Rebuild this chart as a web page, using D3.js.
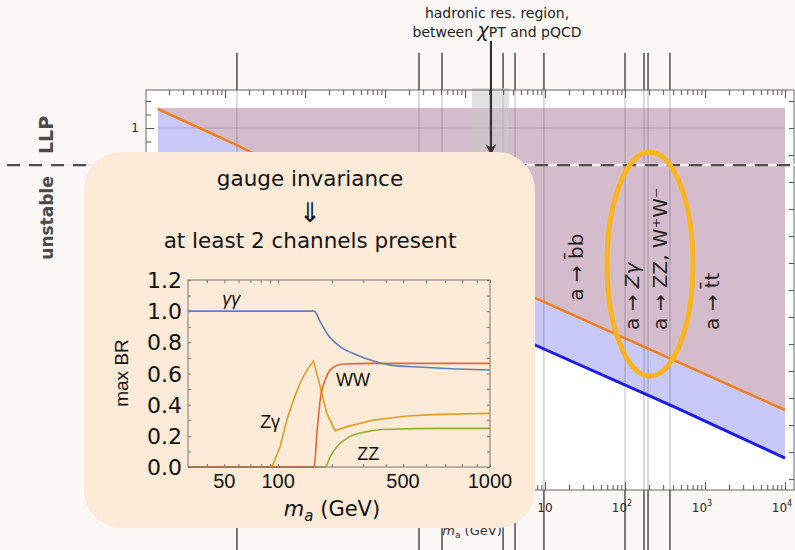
<!DOCTYPE html>
<html>
<head>
<meta charset="utf-8">
<script src="https://cdn.jsdelivr.net/npm/d3@7/dist/d3.min.js"></script>
<style>
body { margin: 0; background: #fcf8f7; }
svg { display: block; }
</style>
</head>
<body>
<svg id="vis" width="795" height="550"></svg>
<script>
// ---------- values ----------
// main panel, x = m_a (GeV), y = decay length (log)
var orangeLine = [[1.45e-4, 25.6], [1.41e-3, 0.055], [7.5, 2.6e-13], [1e4, 1.3e-21]];
var blueLine   = [[1.45e-4, 7.7e-4], [7.5, 8.5e-17], [447, 1.8e-21], [1e4, 3.6e-25]];
var shadeTop = 30;
var shadeRange = [1.45e-4, 1e4];
var llpBoundary = 1.8e-3;
var thresholds = [1.41e-3, 0.266, 0.516, 2.99, 4.22, 9.7, 100, 172.8, 194, 365];
var hadronBand = [1.22, 3.55];
var hadronArrow = 2.11;
var mainXTicks = [10, 100, 1000, 10000];
var mainXExp = ["", "2", "3", "4"];
var channels = [
  {m: 23.7, start: 1.6e-13, text: "b̄b"},
  {m: 119, start: 1.1e-15, text: "Zγ"},
  {m: 266, start: 1.1e-15, text: "ZZ, W⁺W⁻"},
  {m: 1189, start: 1.1e-15, text: "t̄t"}
];

// inset panel, x = m_a (GeV), y = max BR
var insetTicksX = [50, 100, 500, 1000];
var insetTicksY = [0, 0.2, 0.4, 0.6, 0.8, 1.0, 1.2];
var brGG = [[31.3, 1.0], [159.1, 1.0], [171.9, 0.933], [187.4, 0.858], [222.5, 0.772], [276, 0.719], [342, 0.680], [424, 0.654], [586, 0.640], [767, 0.629], [1000, 0.622]];
var brZG = [[31.3, 0], [92.2, 0], [102.6, 0.130], [111.9, 0.302], [121.8, 0.43], [132.8, 0.539], [144.8, 0.622], [157.7, 0.68], [171.9, 0.515], [187.4, 0.344], [208.6, 0.233], [242.6, 0.259], [342, 0.302], [515, 0.327], [671, 0.338], [1000, 0.344]];
var brWW = [[31.3, 0], [159.1, 0], [164.8, 0.216], [171.9, 0.43], [183.4, 0.558], [199.9, 0.633], [232.2, 0.661], [342, 0.665], [1000, 0.665]];
var brZZ = [[31.3, 0], [183.4, 0], [195.6, 0.066], [213.2, 0.130], [242.6, 0.184], [314, 0.227], [424, 0.242], [671, 0.248], [1000, 0.248]];

// ---------- main panel ----------
var svg = d3.select("#vis");
var frame = {left: 146, right: 794, top: 90, bottom: 490};

var x = d3.scaleLog().domain([Math.pow(10, -3.9875), Math.pow(10, 4.1125)]).range([frame.left, frame.right]);
var y = d3.scaleLog().domain([Math.pow(10, -26.81), Math.pow(10, 2.815)]).range([frame.bottom, frame.top]);

svg.append("rect").attr("x", frame.left).attr("y", frame.top)
  .attr("width", frame.right - frame.left).attr("height", frame.bottom - frame.top)
  .attr("fill", "#fff");

var area = d3.area()
  .x(function(d) { return x(d[0]); })
  .y0(function(d) { return y(shadeTop); })
  .y1(function(d) { return y(d[1]); });

svg.append("path").attr("d", area(blueLine)).attr("fill", "#c9c9f7");
svg.append("path").attr("d", area(orangeLine)).attr("fill", "#d4bccc");

// y = 1 grid line
svg.append("line")
  .attr("x1", x(shadeRange[0])).attr("x2", x(shadeRange[1]))
  .attr("y1", y(1)).attr("y2", y(1))
  .attr("stroke", "#8c6f8c").attr("stroke-opacity", 0.45).attr("stroke-width", 1.2);

// threshold lines inside the frame and outside of it
thresholds.forEach(function(m) {
  svg.append("line").attr("x1", x(m)).attr("x2", x(m))
    .attr("y1", frame.top).attr("y2", frame.bottom)
    .attr("stroke", "#6a6a6a").attr("stroke-opacity", 0.6).attr("stroke-width", 0.8);
  svg.append("line").attr("x1", x(m)).attr("x2", x(m))
    .attr("y1", 53).attr("y2", frame.top)
    .attr("stroke", "#333").attr("stroke-width", 1.3);
  svg.append("line").attr("x1", x(m)).attr("x2", x(m))
    .attr("y1", frame.bottom).attr("y2", 550)
    .attr("stroke", "#333").attr("stroke-width", 1.3);
});

// hadronic resonance band
svg.append("rect")
  .attr("x", x(hadronBand[0])).attr("y", frame.top - 2)
  .attr("width", x(hadronBand[1]) - x(hadronBand[0])).attr("height", frame.bottom - frame.top + 2)
  .attr("fill", "#c8c8c8").attr("fill-opacity", 0.55);

var line = d3.line().x(function(d) { return x(d[0]); }).y(function(d) { return y(d[1]); });
svg.append("path").attr("d", line(orangeLine)).attr("fill", "none").attr("stroke", "#f27f1b").attr("stroke-width", 2.5);
svg.append("path").attr("d", line(blueLine)).attr("fill", "none").attr("stroke", "#1b1be8").attr("stroke-width", 3);

// frame + ticks
svg.append("rect").attr("x", frame.left).attr("y", frame.top)
  .attr("width", frame.right - frame.left).attr("height", frame.bottom - frame.top)
  .attr("fill", "none").attr("stroke", "#666").attr("stroke-width", 1);

function isMajor(d) { return Math.abs(Math.log10(d) - Math.round(Math.log10(d))) < 1e-6; }

var xt = x.ticks();
svg.append("g").attr("transform", "translate(0," + frame.bottom + ")")
  .call(d3.axisTop(x).tickValues(xt).tickFormat("").tickSizeOuter(0))
  .call(function(g) {
    g.select(".domain").remove();
    g.selectAll(".tick line").attr("y2", function(d) { return isMajor(d) ? -8 : -5; }).attr("stroke", "#555");
  });
svg.append("g").attr("transform", "translate(0," + frame.top + ")")
  .call(d3.axisBottom(x).tickValues(xt).tickFormat("").tickSizeOuter(0))
  .call(function(g) {
    g.select(".domain").remove();
    g.selectAll(".tick line").attr("y2", function(d) { return isMajor(d) ? 8 : 5; }).attr("stroke", "#555");
  });

var yt = d3.range(-26, 3).map(function(e) { return Math.pow(10, e); });
svg.append("g").attr("transform", "translate(" + frame.left + ",0)")
  .call(d3.axisRight(y).tickValues(yt).tickFormat("").tickSizeOuter(0))
  .call(function(g) {
    g.select(".domain").remove();
    g.selectAll(".tick line").attr("x2", function(d) { return d === 1 ? 8 : 5; }).attr("stroke", "#555");
  });
svg.append("g").attr("transform", "translate(" + frame.right + ",0)")
  .call(d3.axisLeft(y).tickValues(yt.filter(function(d, i) { return i % 2 === 0; })).tickFormat("").tickSizeOuter(0))
  .call(function(g) {
    g.select(".domain").remove();
    g.selectAll(".tick line").attr("x2", -5).attr("stroke", "#555");
  });

svg.append("text").attr("x", frame.left - 7).attr("y", y(1) + 4)
  .attr("text-anchor", "end").attr("font-family", "DejaVu Sans").attr("font-size", 12).attr("fill", "#222").text("1");

mainXTicks.forEach(function(t, i) {
  var tx = svg.append("text").attr("x", x(t) - (mainXExp[i] ? 3 : 0)).attr("y", frame.bottom + 22)
    .attr("text-anchor", "middle").attr("font-family", "DejaVu Sans").attr("font-size", 12).attr("fill", "#222");
  tx.append("tspan").text("10");
  if (mainXExp[i]) tx.append("tspan").attr("dy", -6).attr("font-size", 8).text(mainXExp[i]);
});

var mainLabel = svg.append("text").attr("x", (frame.left + frame.right) / 2 + 2).attr("y", 535)
  .attr("text-anchor", "middle").attr("font-family", "DejaVu Sans").attr("font-size", 13).attr("fill", "#333");
mainLabel.append("tspan").attr("font-style", "italic").text("m");
mainLabel.append("tspan").attr("dy", 3).attr("font-size", 9).text("a");
mainLabel.append("tspan").attr("dy", -3).text(" (GeV)");

// LLP / unstable boundary
svg.append("line").attr("x1", 7).attr("x2", 795).attr("y1", y(llpBoundary)).attr("y2", y(llpBoundary))
  .attr("stroke", "#f5ecef").attr("stroke-width", 2.5);
svg.append("line").attr("x1", 7).attr("x2", 795).attr("y1", y(llpBoundary)).attr("y2", y(llpBoundary))
  .attr("stroke", "#4d4d4d").attr("stroke-width", 2.2).attr("stroke-dasharray", "13,9");

svg.append("text").attr("transform", "translate(53,135) rotate(-90)")
  .attr("text-anchor", "middle").attr("font-family", "DejaVu Sans").attr("font-weight", "bold")
  .attr("font-size", 19).attr("fill", "#4a4a4a").text("LLP");
svg.append("text").attr("transform", "translate(53,218) rotate(-90)")
  .attr("text-anchor", "middle").attr("font-family", "DejaVu Sans").attr("font-weight", "bold")
  .attr("font-size", 17).attr("fill", "#4a4a4a").text("unstable");

// hadronic region note + arrow
var note = svg.append("text").attr("text-anchor", "middle").attr("font-family", "DejaVu Sans")
  .attr("font-size", 14).attr("fill", "#222");
note.append("tspan").attr("x", 497).attr("y", 18).text("hadronic res. region,");
var l2 = note.append("tspan").attr("x", 497).attr("y", 37);
l2.append("tspan").text("between ");
l2.append("tspan").attr("font-style", "italic").attr("font-size", 19).text("χ");
l2.append("tspan").text("PT and pQCD");

svg.append("defs").append("marker").attr("id", "ah").attr("viewBox", "0 0 10 10")
  .attr("refX", 9).attr("refY", 5).attr("markerWidth", 5).attr("markerHeight", 5).attr("orient", "auto")
  .append("path").attr("d", "M0,0 L10,5 L0,10 L3,5 Z").attr("fill", "#333");
svg.append("line").attr("x1", x(hadronArrow)).attr("x2", x(hadronArrow)).attr("y1", 41).attr("y2", 154)
  .attr("stroke", "#333").attr("stroke-width", 2.2).attr("marker-end", "url(#ah)");

// decay channel labels
channels.forEach(function(c) {
  var t = svg.append("text").attr("transform", "translate(" + (x(c.m) + 8) + "," + y(c.start) + ") rotate(-90)")
    .attr("font-family", "DejaVu Sans").attr("font-size", 20).attr("fill", "#222");
  t.append("tspan").text("a → ");
  t.append("tspan").attr("font-style", c.text === "Zγ" ? "italic" : "normal").text(c.text);
});

svg.append("ellipse").attr("cx", 650).attr("cy", 264).attr("rx", 43).attr("ry", 112)
  .attr("fill", "none").attr("stroke", "#f9b41e").attr("stroke-width", 5);

// ---------- inset ----------
var inset = svg.append("g");
inset.append("rect").attr("x", 84).attr("y", 152).attr("width", 451).attr("height", 376).attr("rx", 38)
  .attr("fill", "#fdebd8");

var it = inset.append("text").attr("text-anchor", "middle").attr("font-family", "DejaVu Sans")
  .attr("font-size", 21.5).attr("fill", "#111");
it.append("tspan").attr("x", 310).attr("y", 186).text("gauge invariance");
it.append("tspan").attr("x", 310).attr("y", 222).attr("font-size", 27).text("⇓");
it.append("tspan").attr("x", 310).attr("y", 248).text("at least 2 channels present");

var ib = {left: 188, right: 490, top: 280, bottom: 467};
// axis is log up to 500 then squeezed to the frame edge at 1000, as in the picture
var xi = d3.scaleLog().domain([31.3, 500, 1000]).range([ib.left, 403, ib.right]);
var yi = d3.scaleLinear().domain([0, 1.2]).range([ib.bottom, ib.top]);

var iline = d3.line().x(function(d) { return xi(d[0]); }).y(function(d) { return yi(d[1]); }).curve(d3.curveMonotoneX);
var ilineSharp = d3.line().x(function(d) { return xi(d[0]); }).y(function(d) { return yi(d[1]); });
inset.append("path").attr("d", ilineSharp(brZG)).attr("fill", "none").attr("stroke", "#e19c24").attr("stroke-width", 1.6);
inset.append("path").attr("d", iline(brZZ)).attr("fill", "none").attr("stroke", "#8fb032").attr("stroke-width", 1.6);
inset.append("path").attr("d", iline(brWW)).attr("fill", "none").attr("stroke", "#eb6235").attr("stroke-width", 1.6);
inset.append("path").attr("d", iline(brGG)).attr("fill", "none").attr("stroke", "#5e81b5").attr("stroke-width", 1.6);

inset.append("rect").attr("x", ib.left).attr("y", ib.top).attr("width", ib.right - ib.left).attr("height", ib.bottom - ib.top)
  .attr("fill", "none").attr("stroke", "#777").attr("stroke-width", 1);

var ixt = d3.scaleLog().domain([31.3, 1000]).ticks().filter(function(d) { return d >= 40; });
inset.append("g").attr("transform", "translate(0," + ib.bottom + ")")
  .call(d3.axisTop(xi).tickValues(ixt).tickFormat("").tickSize(3).tickSizeOuter(0))
  .call(function(g) { g.select(".domain").remove(); g.selectAll("line").attr("stroke", "#777"); });
inset.append("g").attr("transform", "translate(0," + ib.top + ")")
  .call(d3.axisBottom(xi).tickValues(ixt).tickFormat("").tickSize(3).tickSizeOuter(0))
  .call(function(g) { g.select(".domain").remove(); g.selectAll("line").attr("stroke", "#777"); });
inset.append("g").attr("transform", "translate(" + ib.left + ",0)")
  .call(d3.axisRight(yi).ticks(12).tickFormat("").tickSize(3).tickSizeOuter(0))
  .call(function(g) { g.select(".domain").remove(); g.selectAll("line").attr("stroke", "#777"); });
inset.append("g").attr("transform", "translate(" + ib.right + ",0)")
  .call(d3.axisLeft(yi).ticks(12).tickFormat("").tickSize(3).tickSizeOuter(0))
  .call(function(g) { g.select(".domain").remove(); g.selectAll("line").attr("stroke", "#777"); });

inset.selectAll(".ylab").data(insetTicksY).enter().append("text")
  .attr("x", ib.left - 6).attr("y", function(d) { return yi(d) + 8; })
  .attr("text-anchor", "end").attr("font-family", "DejaVu Sans").attr("font-size", 22).attr("fill", "#111")
  .text(function(d) { return d.toFixed(1); });
inset.selectAll(".xlab").data(insetTicksX).enter().append("text")
  .attr("x", function(d) { return xi(d); }).attr("y", ib.bottom + 21)
  .attr("text-anchor", "middle").attr("font-family", "Liberation Sans").attr("font-size", 20).attr("fill", "#111")
  .text(function(d) { return d; });

inset.append("text").attr("transform", "translate(128,373) rotate(-90)").attr("text-anchor", "middle")
  .attr("font-family", "Liberation Sans").attr("font-size", 19).attr("fill", "#111").text("max BR");
var xl = inset.append("text").attr("x", 332).attr("y", 516).attr("text-anchor", "middle")
  .attr("font-family", "DejaVu Sans").attr("font-size", 21).attr("fill", "#111");
xl.append("tspan").attr("font-style", "italic").text("m");
xl.append("tspan").attr("dy", 5).attr("font-size", 15).attr("font-style", "italic").text("a");
xl.append("tspan").attr("dy", -5).text(" (GeV)");

function curveLabel(txt, m, v, ital) {
  inset.append("text").attr("x", xi(m)).attr("y", yi(v)).attr("font-family", "Liberation Sans")
    .attr("font-style", ital ? "italic" : "normal").attr("font-size", 18).attr("fill", "#111").text(txt);
}
curveLabel("γγ", 48.6, 1.04, true);
curveLabel("Zγ", 79.3, 0.25, false);
curveLabel("WW", 211, 0.52, false);
curveLabel("ZZ", 277, 0.045, false);
</script>
</body>
</html>
